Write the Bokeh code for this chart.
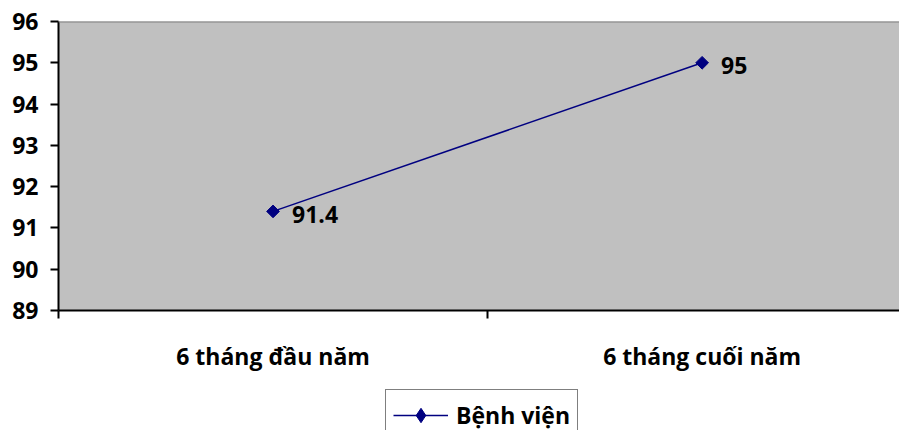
import numpy as np
from bokeh.plotting import figure
from bokeh.layouts import column
from bokeh.models import (ColumnDataSource, FixedTicker, Range1d, Legend, LegendItem, Span)
from bokeh.core.properties import value
from bokeh.embed import file_html
from bokeh.resources import INLINE

categories = ["6 tháng đầu năm", "6 tháng cuối năm"]
values = [91.4, 95]
labels = ["91.4", "95"]
series_name = "Bệnh viện"
y_ticks = [89, 90, 91, 92, 93, 94, 95, 96]

xpos = [i + 0.5 for i in range(len(categories))]
src = ColumnDataSource(data=dict(x=xpos, y=values, lab=labels))

FONT = "Open Sans"
NAVY = "#000080"

p = figure(width=899, height=385, output_backend="svg", toolbar_location=None,
           x_range=Range1d(0, 1.96), y_range=Range1d(89, 96),
           min_border_left=58, min_border_right=0, min_border_top=21,
           min_border_bottom=75)
p.background_fill_color = "#C0C0C0"
p.border_fill_color = "white"
p.outline_line_color = None
p.grid.visible = False

top_line = Span(location=96, dimension="width", line_color="#808080", line_width=2)
p.add_layout(top_line)

p.line("x", "y", source=src, line_color=NAVY, line_width=1.5)
p.scatter("x", "y", source=src, marker="square", angle=np.pi / 4, size=9,
          fill_color=NAVY, line_color=NAVY)
p.text("x", "y", text="lab", source=src, x_offset=19, y_offset=3,
       text_baseline="middle", text_align="left",
       text_font=value(FONT), text_font_style="bold", text_font_size="23px",
       text_color="black")

# x axis
xa = p.xaxis[0]
xa.ticker = FixedTicker(ticks=xpos, minor_ticks=[0, 1, 2])
xa.major_label_overrides = {x: c for x, c in zip(xpos, categories)}
xa.major_tick_in = 0
xa.major_tick_out = 0
xa.minor_tick_in = 0
xa.minor_tick_out = 8
xa.minor_tick_line_color = "black"
xa.minor_tick_line_width = 2
xa.axis_line_color = "black"
xa.axis_line_width = 2
xa.major_label_standoff = 21
xa.major_label_text_font = FONT
xa.major_label_text_font_style = "bold"
xa.major_label_text_font_size = "23px"
xa.major_label_text_color = "black"

# y axis
ya = p.yaxis[0]
ya.ticker = FixedTicker(ticks=y_ticks, minor_ticks=[])
ya.major_tick_in = 0
ya.major_tick_out = 8
ya.major_tick_line_color = "black"
ya.major_tick_line_width = 2
ya.axis_line_color = "black"
ya.axis_line_width = 2
ya.major_label_standoff = 12
ya.major_label_text_font = FONT
ya.major_label_text_font_style = "bold"
ya.major_label_text_font_size = "23px"
ya.major_label_text_color = "black"

# legend strip below the chart (its proxy renderers sit outside the visible range)
proxy = ColumnDataSource(data=dict(x=[5, 6], y=[5, 6]))
q = figure(width=899, height=45, output_backend="svg", toolbar_location=None,
           x_range=Range1d(0, 1), y_range=Range1d(0, 1),
           min_border=0, min_border_left=0, min_border_right=0,
           min_border_top=0, min_border_bottom=0)
q.axis.visible = False
q.grid.visible = False
q.outline_line_color = None
q.background_fill_color = "white"
q.border_fill_color = "white"
lr = q.line("x", "y", source=proxy, line_color=NAVY, line_width=1.5)
sr = q.scatter("x", "y", source=proxy, marker="diamond", size=15,
               fill_color=NAVY, line_color=NAVY)

legend = Legend(items=[LegendItem(label=series_name, renderers=[lr, sr])],
                location=(327, -11), orientation="horizontal")
legend.padding = 7
legend.margin = 0
legend.glyph_width = 55
legend.glyph_height = 36
legend.label_standoff = 8
legend.label_text_font = FONT
legend.label_text_font_style = "bold"
legend.label_text_font_size = "23px"
legend.label_text_color = "black"
legend.border_line_color = "black"
legend.border_line_width = 1.5
legend.background_fill_color = "white"
legend.background_fill_alpha = 1
q.add_layout(legend)

layout = column(p, q, spacing=0)
open("out.html", "w").write(file_html(layout, INLINE))
